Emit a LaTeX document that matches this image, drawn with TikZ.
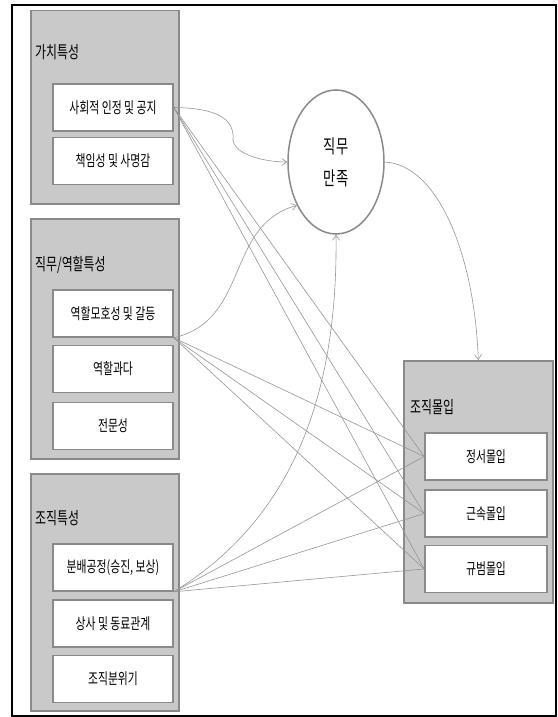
\documentclass[tikz,border=0pt]{standalone}
\usepackage{fontspec}
\setmainfont{Noto Sans CJK KR}[FakeStretch=0.7]
\usepackage{tikz}
\usetikzlibrary{arrows.meta,positioning,shapes.geometric,calc}
\definecolor{boxgray}{HTML}{C9C9C9}
\definecolor{edgegray}{HTML}{8A8A8A}
\definecolor{linegray}{HTML}{959595}

\begin{document}
\begin{tikzpicture}[
  x=1pt, y=-1pt,
  group/.style={rectangle, draw=edgegray, fill=boxgray, line width=1.5pt, anchor=north west, inner sep=0pt},
  factor/.style={rectangle, draw=edgegray, fill=white, line width=1.6pt, minimum width=120pt, minimum height=47pt, inner sep=0pt, font=\fontsize{15.5}{18}\selectfont},
  grouptitle/.style={anchor=west, inner sep=0pt, font=\fontsize{17}{20}\selectfont},
  link/.style={draw=linegray, line width=0.6pt},
  arrow/.style={link, -{Straight Barb[length=5pt,width=7pt]}}
]
\useasboundingbox (0,0) rectangle (557,717);
\draw[line width=2pt] (12,5) rectangle (556,716);

\node[group, minimum width=148pt, minimum height=193pt] (valuegrp) at (30,10) {};
\node[grouptitle] (valuettl) at (35,52) {가치특성};
\node[factor] (s1) at (113,107.5) {사회적 인정 및 공지};
\node[factor] (s2) at (113,161) {책임성 및 사명감};

\node[group, minimum width=148pt, minimum height=240pt] (rolegrp) at (30,218) {};
\node[grouptitle] (rolettl) at (35,265) {직무/역할특성};
\node[factor] (r1) at (113,313.5) {역할모호성 및 갈등};
\node[factor] (r2) at (113,369) {역할과다};
\node[factor] (r3) at (113,426) {전문성};

\node[group, minimum width=148pt, minimum height=237pt] (orgfgrp) at (30,473) {};
\node[grouptitle] (orgfttl) at (35,518) {조직특성};
\node[factor] (o1) at (113,567.5) {분배공정(승진, 보상)};
\node[factor] (o2) at (113,623.5) {상사 및 동료관계};
\node[factor] (o3) at (113,679) {조직분위기};

\node[ellipse, draw=edgegray, fill=white, line width=1.5pt, minimum width=96pt, minimum height=144pt, align=center, font=\fontsize{19}{32}\selectfont] (sat) at (336,162) {직무\\만족};

\node[group, minimum width=149pt, minimum height=242pt] (commitgrp) at (403,360) {};
\node[grouptitle] (committtl) at (410,407) {조직몰입};
\node[factor, minimum width=122pt] (c1) at (486,456.5) {정서몰입};
\node[factor, minimum width=122pt] (c2) at (486,513.5) {근속몰입};
\node[factor, minimum width=122pt] (c3) at (486,569) {규범몰입};

\draw[arrow] (s1.east) .. controls (215,108) and (235,118) .. (233,140) .. controls (235,155) and (265,162) .. (sat.west);
\draw[arrow] (r1.south east) .. controls (250,320) and (225,225) .. (sat.228);
\draw[arrow] (o1.south east) .. controls (290,520) and (338,400) .. (sat.south);
\draw[arrow] (sat.east) .. controls (440,165) and (475,260) .. (commitgrp.north);

\foreach \src in {s1.east, r1.south east, o1.south east}
  \foreach \dst in {c1, c2, c3}
    \draw[link] (\src) -- (\dst.west);
\end{tikzpicture}
\end{document}
